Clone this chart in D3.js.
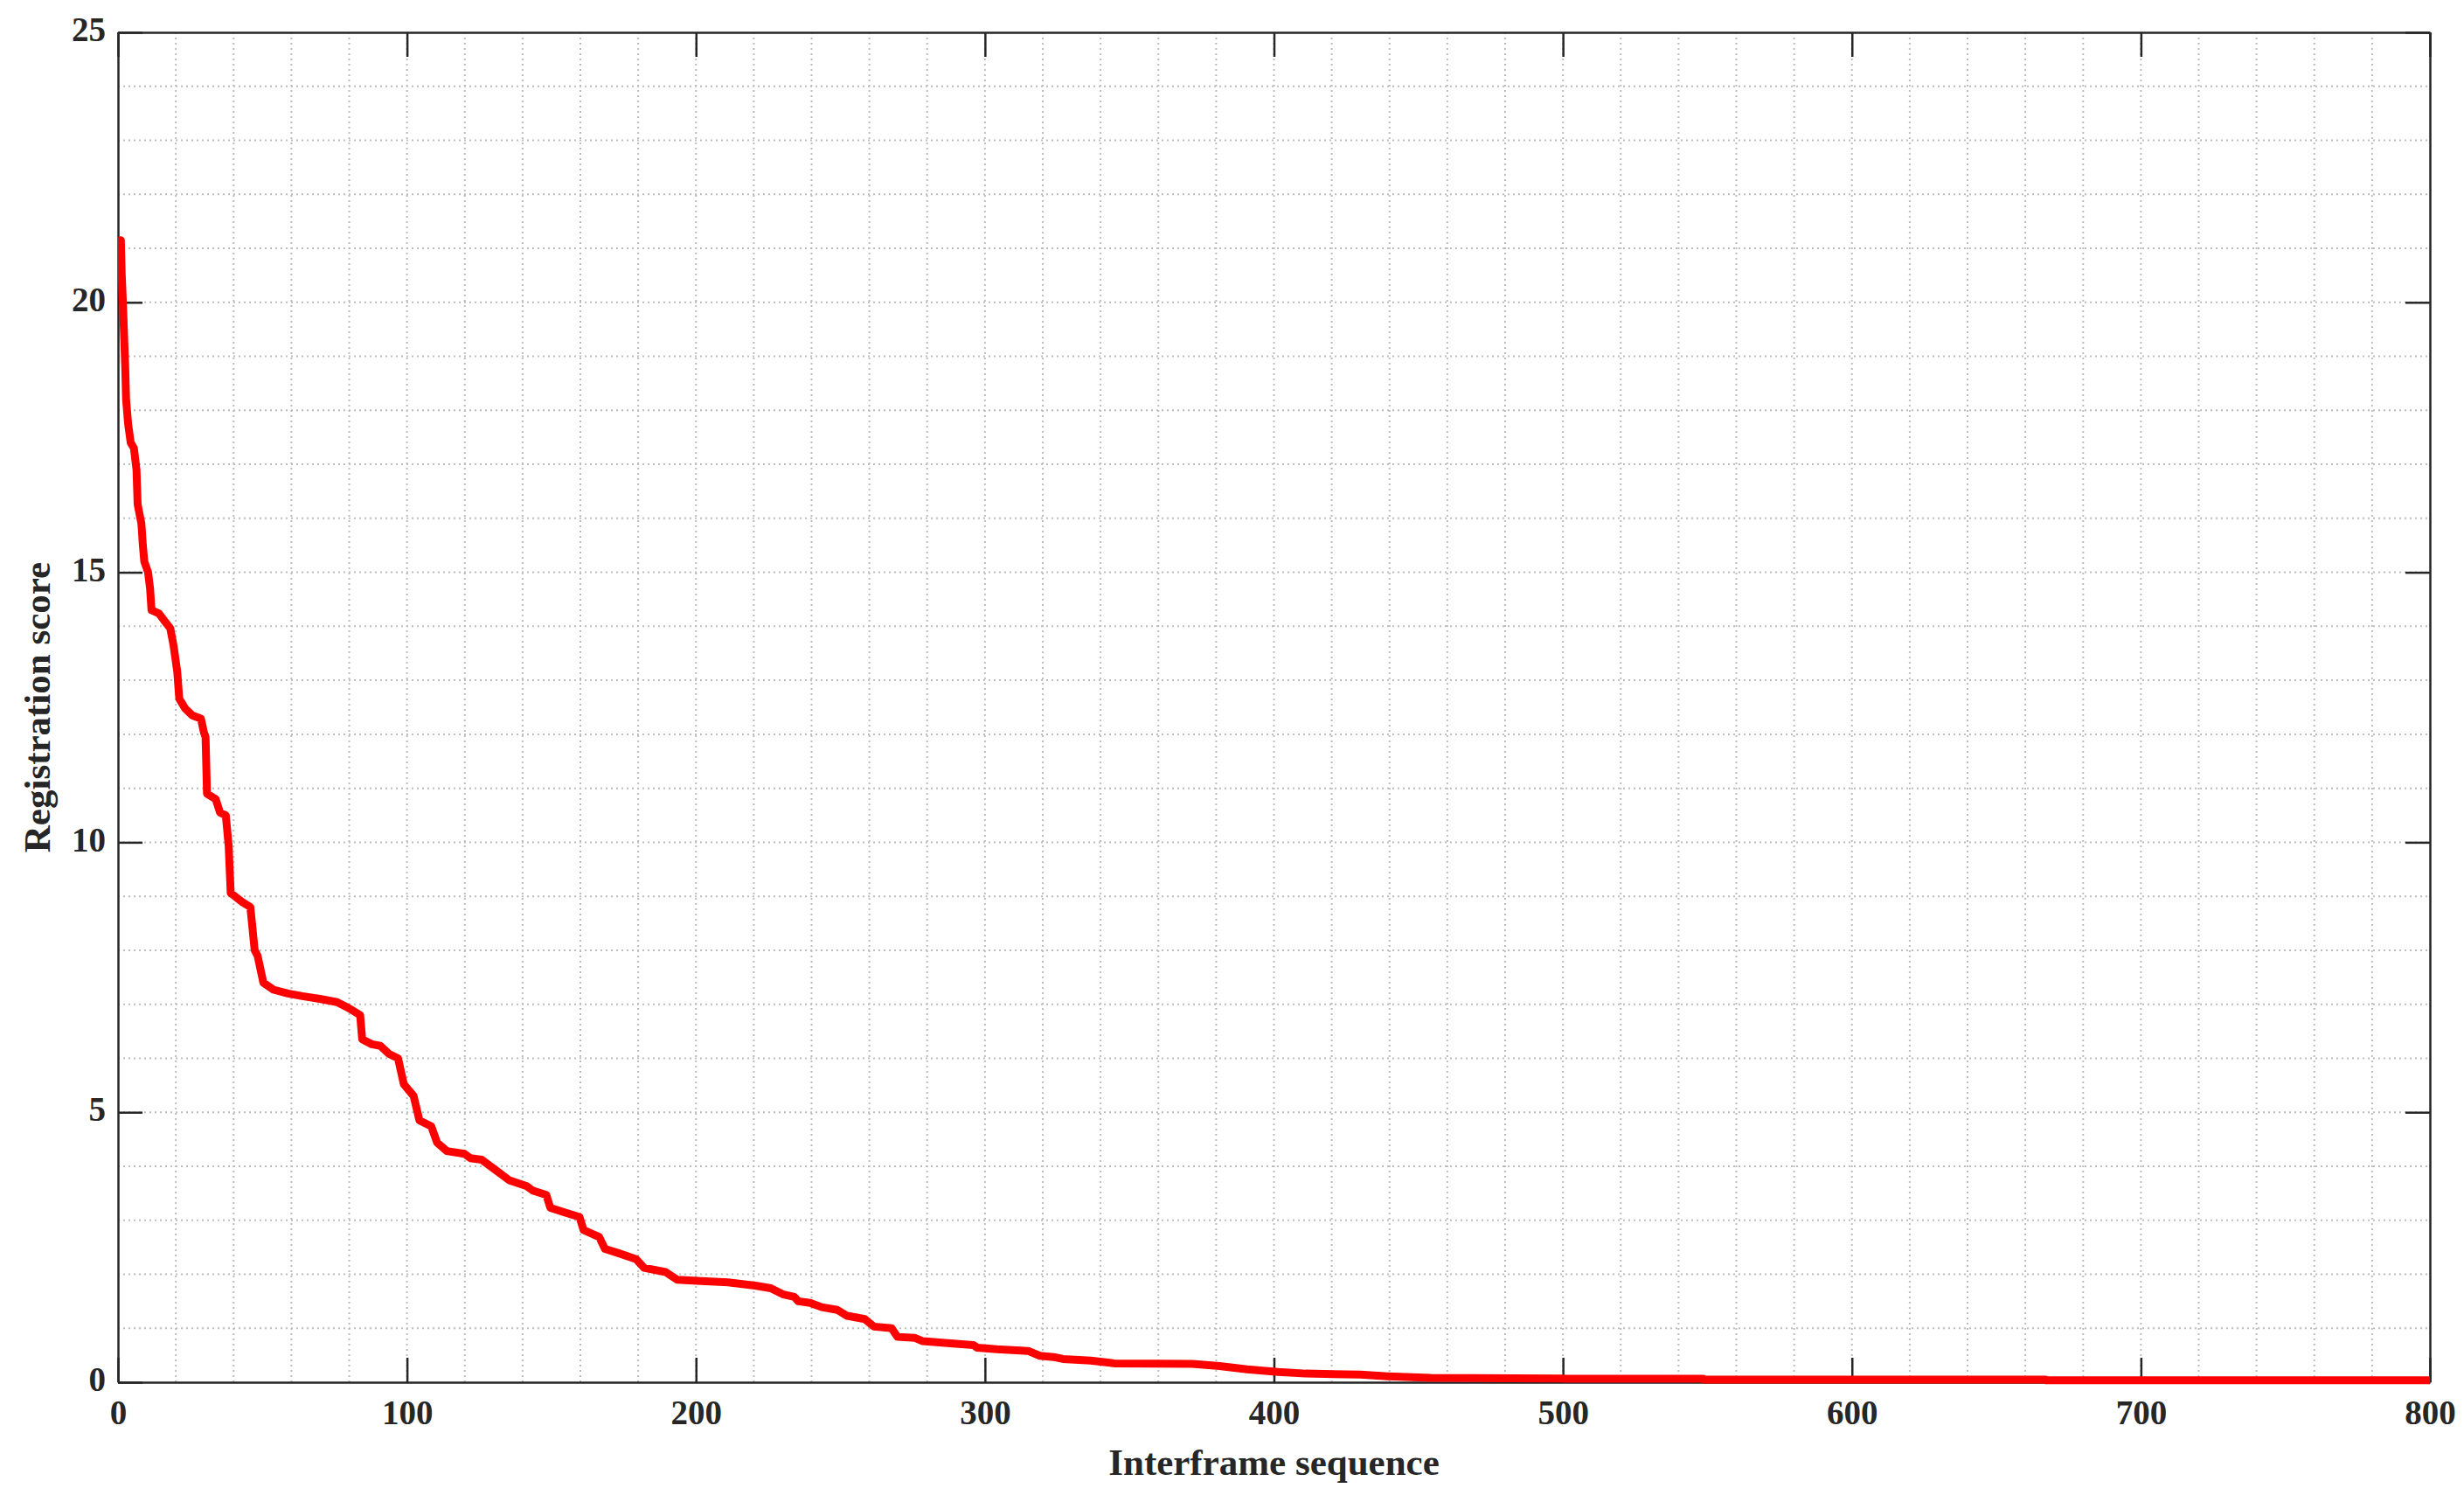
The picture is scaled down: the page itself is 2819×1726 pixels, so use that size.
<!DOCTYPE html>
<meta charset="utf-8">
<style>
    body { margin: 0; background: #fff; }
    .grid line { stroke: #bdbdbd; stroke-width: 2px; stroke-dasharray: 2,4; }
    .axis path, .axis line { stroke: #262626; }
    .axis text { fill: #262626; font-family: "Palatino Linotype", "Book Antiqua", Palatino, "Liberation Serif", serif; font-weight: bold; font-size: 39px; }
    .label { fill: #262626; font-family: "Palatino Linotype", "Book Antiqua", Palatino, "Liberation Serif", serif; font-weight: bold; font-size: 43px; }
    .line { fill: none; stroke: #ff0000; stroke-width: 9px; stroke-linejoin: round; }
</style>
<svg width="2819" height="1726"></svg>
<script src="https://d3js.org/d3.v7.min.js"></script>
<script>

    // interframe index and registration score at the breakpoints of the curve
    var seqIndex = [0, 1, 1.3, 1.7, 2.1, 2.5, 2.8, 3.5, 4.4, 5.5, 6.4, 6.8, 8.1, 8.6, 9.1, 10.4, 11.1, 11.6,
        14.1, 16.1, 18.1, 19.2, 20.5, 21.2, 23.2, 25.7, 28.7, 29.7, 30.3, 30.8, 33.8, 35.3, 37.3, 38.3, 39,
        42.8, 45.8, 47.3, 48.3, 50.3, 53.8, 58.8, 63.8, 69.8, 75.8, 79.8, 83.8, 84.5, 87.8, 90.8, 93.8,
        96.9, 98.9, 102.3, 104.3, 108.4, 110.4, 113.8, 119.9, 121.9, 125.9, 131.4, 135.4, 141.5, 143.5,
        148.2, 149.6, 154.3, 159.7, 161.1, 166.5, 168.5, 173.2, 179.3, 182, 189.5, 193.5, 200.3, 211.1,
        220.5, 225.9, 230, 234, 235.4, 239.5, 243.5, 248.9, 252.3, 258.4, 261.6, 267.7, 269.7, 275.8,
        278.5, 288, 296, 297.3, 304.1, 314.9, 319, 324.5, 327, 336.6, 344.7, 371.8, 381.2, 390.7, 401.5,
        411, 429.9, 439.3, 454.2, 500, 500, 548.5, 548.5, 667, 667, 800];
    var scores = [21.1, 21.15, 20.5, 20.0, 19.4, 18.8, 18.2, 17.75, 17.4, 17.3, 16.9, 16.26, 15.9, 15.5, 15.2, 15.0, 14.7, 14.3,
        14.24, 14.1, 13.96, 13.65, 13.16, 12.66, 12.48, 12.35, 12.29, 12.04, 11.95, 10.9, 10.8, 10.55, 10.5, 9.93, 9.06,
        8.9, 8.8, 8.0, 7.9, 7.4, 7.27, 7.2, 7.15, 7.1, 7.04, 6.93, 6.8, 6.35, 6.26, 6.23, 6.08,
        6.0, 5.52, 5.3, 4.85, 4.74, 4.44, 4.28, 4.23, 4.15, 4.12, 3.9, 3.74, 3.63, 3.55,
        3.47, 3.23, 3.15, 3.06, 2.82, 2.69, 2.47, 2.39, 2.28, 2.12, 2.04, 1.9, 1.88, 1.85,
        1.79, 1.74, 1.63, 1.58, 1.5, 1.47, 1.39, 1.34, 1.23, 1.17, 1.03, 1.0, 0.84, 0.82,
        0.76, 0.72, 0.69, 0.64, 0.61, 0.58, 0.49, 0.46, 0.43, 0.4, 0.35, 0.34, 0.3, 0.24, 0.19,
        0.16, 0.14, 0.11, 0.08, 0.07, 0.065, 0.065, 0.05, 0.05, 0.035, 0.035];

    var xTicks = [0, 100, 200, 300, 400, 500, 600, 700, 800],
        yTicks = [0, 5, 10, 15, 20, 25];
    var xGridStep = 20, yGridStep = 1;

    var svg = d3.select("svg"),
        margin = {top: 37, right: 39, bottom: 145, left: 135},
        width = +svg.attr("width") - margin.left - margin.right,
        height = +svg.attr("height") - margin.top - margin.bottom;

    var x = d3.scaleLinear().domain([0, 800]).range([0, width]),
        y = d3.scaleLinear().domain([0, 25]).range([height, 0]);

    var g = svg.append("g")
        .attr("transform", "translate(" + margin.left + "," + margin.top + ")");

    svg.append("defs").append("clipPath")
        .attr("id", "clip")
        .append("rect")
        .attr("x", 0).attr("y", -20)
        .attr("width", width).attr("height", height + 40);

    // dotted grid, every minor step
    var grid = g.append("g").attr("class", "grid");
    grid.selectAll(".gx")
        .data(d3.range(x.domain()[0] + xGridStep, x.domain()[1], xGridStep))
        .enter().append("line")
        .attr("x1", d => x(d)).attr("x2", d => x(d))
        .attr("y1", 0).attr("y2", height);
    grid.selectAll(".gy")
        .data(d3.range(y.domain()[0] + yGridStep, y.domain()[1], yGridStep))
        .enter().append("line")
        .attr("x1", 0).attr("x2", width)
        .attr("y1", d => y(d)).attr("y2", d => y(d));

    var tickLen = 28;

    // box with inward ticks on all four sides
    g.append("g").attr("class", "axis")
        .attr("transform", "translate(0," + height + ")")
        .call(d3.axisBottom(x).tickValues(xTicks).tickSizeInner(-tickLen).tickSizeOuter(0).tickPadding(20));
    g.append("g").attr("class", "axis")
        .call(d3.axisTop(x).tickValues(xTicks).tickSizeInner(-tickLen).tickSizeOuter(0).tickFormat(""));
    g.append("g").attr("class", "axis axis--y")
        .call(d3.axisLeft(y).tickValues(yTicks).tickSizeInner(-tickLen).tickSizeOuter(0).tickPadding(14));
    g.append("g").attr("class", "axis")
        .attr("transform", "translate(" + width + ",0)")
        .call(d3.axisRight(y).tickValues(yTicks).tickSizeInner(-tickLen).tickSizeOuter(0).tickFormat(""));

    g.selectAll(".axis path").style("stroke-width", "2.5px");
    g.selectAll(".axis line").style("stroke-width", "2.5px");
    g.selectAll(".axis--y text").attr("dy", "0.25em");

    var line = d3.line()
        .x((d, i) => x(seqIndex[i]))
        .y(d => y(d));

    g.append("path")
        .datum(scores)
        .attr("class", "line")
        .attr("clip-path", "url(#clip)")
        .attr("d", line);

    g.append("text")
        .attr("class", "label")
        .attr("text-anchor", "middle")
        .attr("x", width / 2)
        .attr("y", height + 106)
        .text("Interframe sequence");

    g.append("text")
        .attr("class", "label")
        .attr("text-anchor", "middle")
        .attr("transform", "translate(" + (-78) + "," + (height / 2) + ") rotate(-90)")
        .text("Registration score");

</script>
